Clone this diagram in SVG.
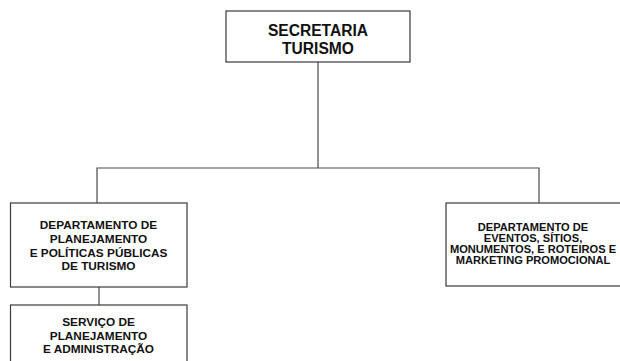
<svg xmlns="http://www.w3.org/2000/svg" width="620" height="361" viewBox="0 0 620 361">
<style>
.box{fill:#fff;stroke:#3a3a3a;stroke-width:1.2}
.ln{fill:none;stroke:#4a4a4a;stroke-width:1.2}
text{font-family:"Liberation Sans",Arial,sans-serif;font-weight:bold;fill:#111;text-anchor:middle}
.t1{font-size:15.6px}
.t2{font-size:11.8px}
.t3{font-size:11.1px}
</style>
<rect width="620" height="361" fill="#fff"/>
<g id="connectors">
<path class="ln" d="M318 62V168M97 203V168H539V203M99 287V305"/>
</g>
<g id="secretaria">
<rect class="box" x="226" y="11" width="184" height="51"/>
<text class="t1" x="318" y="35.5">SECRETARIA</text>
<text class="t1" x="318" y="53.5">TURISMO</text>
</g>
<g id="dep-planejamento">
<rect class="box" x="10.5" y="203" width="176.5" height="84"/>
<text class="t2" x="98.5" y="228.5">DEPARTAMENTO DE</text>
<text class="t2" x="98.5" y="242.5">PLANEJAMENTO</text>
<text class="t2" x="98.5" y="256.5">E POLÍTICAS PÚBLICAS</text>
<text class="t2" x="98.5" y="270">DE TURISMO</text>
</g>
<g id="dep-eventos">
<rect class="box" x="446" y="203" width="200" height="83"/>
<text class="t3" x="533" y="230.5">DEPARTAMENTO DE</text>
<text class="t3" x="533" y="242">EVENTOS, SÍTIOS,</text>
<text class="t3" x="533" y="253">MONUMENTOS, E ROTEIROS E</text>
<text class="t3" x="533" y="264">MARKETING PROMOCIONAL</text>
</g>
<g id="servico">
<rect class="box" x="10.5" y="305" width="176.5" height="70"/>
<text class="t2" x="98.5" y="326">SERVIÇO DE</text>
<text class="t2" x="98.5" y="339.5">PLANEJAMENTO</text>
<text class="t2" x="98.5" y="352.5">E ADMINISTRAÇÃO</text>
</g>
</svg>
